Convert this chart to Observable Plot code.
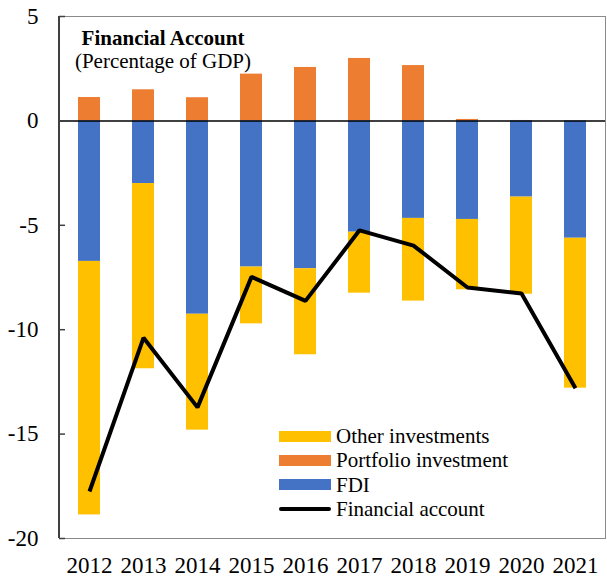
<!DOCTYPE html>
<html>
<head>
<meta charset="utf-8">
<script src="https://cdn.jsdelivr.net/npm/d3@7"></script>
<script src="https://cdn.jsdelivr.net/npm/@observablehq/plot@0.6"></script>
<style>
  html, body { margin: 0; padding: 0; background: #fff; }
  #wrap { position: relative; width: 607px; height: 584px; font-family: "Liberation Serif", "Times New Roman", serif; color: #000; }
  #wrap svg { position: absolute; left: 0; top: 0; }
  .ttl { position: absolute; left: 62px; width: 202px; text-align: center; font-size: 21px; line-height: 1; white-space: nowrap; }
  #legend { position: absolute; left: 279px; top: 424px; font-size: 21px; line-height: 24.3px; }
  .row { display: flex; align-items: center; height: 24.3px; white-space: nowrap; }
  .sw { width: 52px; height: 11px; margin-right: 5px; }
  .ln { width: 52px; height: 4px; margin-right: 5px; background: #000; border-radius: 2px; }
</style>
</head>
<body>
<div id="wrap"></div>
<script>
const years = ["2012","2013","2014","2015","2016","2017","2018","2019","2020","2021"];
const portfolio = [1.12, 1.49, 1.11, 2.24, 2.56, 2.99, 2.65, 0.07, 0.02, 0.0];
const fdi = [-6.73, -3.00, -9.26, -7.00, -7.08, -5.33, -4.67, -4.72, -3.65, -5.62];
const otherInv = [-12.14, -8.87, -5.55, -2.72, -4.12, -2.92, -3.96, -3.37, -4.65, -7.18];
const financialAccount = [-17.75, -10.39, -13.72, -7.47, -8.62, -5.24, -5.97, -7.98, -8.27, -12.80];
const yTicks = [-20, -15, -10, -5, 0, 5];
const seriesNames = ["Portfolio investment", "FDI", "Other investments"];
const seriesColors = ["#ED7D31", "#4472C4", "#FFC000"];
const legendItems = ["Other investments", "Portfolio investment", "FDI", "Financial account"];

const long = [];
years.forEach((y, i) => {
  long.push({year: y, series: seriesNames[0], value: portfolio[i]});
  long.push({year: y, series: seriesNames[1], value: fdi[i]});
  long.push({year: y, series: seriesNames[2], value: otherInv[i]});
});
const lineData = years.map((y, i) => ({year: y, value: financialAccount[i]}));

const chart = Plot.plot({
  width: 607,
  height: 584,
  marginLeft: 59,
  marginRight: 2,
  marginTop: 16,
  marginBottom: 46,
  style: {fontFamily: '"Liberation Serif", "Times New Roman", serif', fontSize: "23px", color: "#000", background: "#fff"},
  x: {domain: years, paddingInner: 0.6, paddingOuter: 0.3, label: null},
  y: {domain: [-20, 5], ticks: yTicks, label: null},
  color: {domain: seriesNames, range: seriesColors},
  marks: [
    Plot.barY(long, {x: "year", y: "value", fill: "series", order: seriesNames}),
    Plot.ruleY([0], {stroke: "#000", strokeWidth: 1.5}),
    Plot.frame({stroke: "#8a8a8a"}),
    Plot.line(lineData, {x: "year", y: "value", stroke: "#000", strokeWidth: 4, strokeLinejoin: "miter", strokeLinecap: "butt"}),
    Plot.axisY({ticks: yTicks, tickSize: 0, tickPadding: 21, tickFormat: d => String(d), fill: "#000", fontSize: 23}),
    Plot.axisY({ticks: yTicks, tickSize: 6, dx: 6, text: null, stroke: "#404040", strokeWidth: 1.5}),
    Plot.axisX({tickSize: 0, tickPadding: 18, fill: "#000", fontSize: 23})
  ]
});
const wrap = document.getElementById("wrap");
wrap.appendChild(chart);

// dark left axis line
const svg = d3.select(chart);
svg.append("line").attr("x1", 59).attr("x2", 59).attr("y1", 16).attr("y2", 538)
  .attr("stroke", "#404040").attr("stroke-width", 2);

const t1 = document.createElement("div");
t1.className = "ttl"; t1.style.top = "28px"; t1.style.fontWeight = "bold";
t1.textContent = "Financial Account";
wrap.appendChild(t1);
const t2 = document.createElement("div");
t2.className = "ttl"; t2.style.top = "51px";
t2.textContent = "(Percentage of GDP)";
wrap.appendChild(t2);

const legend = document.createElement("div");
legend.id = "legend";
const legendColors = {"Other investments": "#FFC000", "Portfolio investment": "#ED7D31", "FDI": "#4472C4"};
legendItems.forEach(name => {
  const row = document.createElement("div");
  row.className = "row";
  const sw = document.createElement("div");
  if (legendColors[name]) { sw.className = "sw"; sw.style.background = legendColors[name]; }
  else { sw.className = "ln"; }
  const label = document.createElement("span");
  label.textContent = name;
  row.appendChild(sw); row.appendChild(label);
  legend.appendChild(row);
});
wrap.appendChild(legend);
</script>
</body>
</html>
